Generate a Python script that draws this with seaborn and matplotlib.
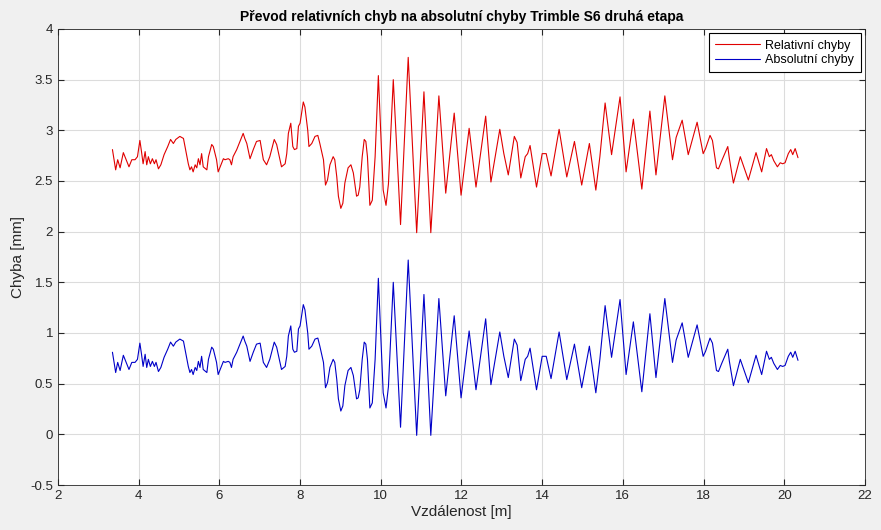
import numpy as np
import pandas as pd
import matplotlib
matplotlib.use("Agg")
import matplotlib.pyplot as plt
import seaborn as sns

# distance [m]
vzdalenost = [
    3.35, 3.43, 3.48, 3.54, 3.62, 3.68, 3.76, 3.83, 3.91, 3.97,
    4.03, 4.07, 4.11, 4.16, 4.20, 4.24, 4.29, 4.34, 4.39, 4.43,
    4.49, 4.55, 4.63, 4.72, 4.79, 4.86, 4.92, 5.02, 5.11, 5.23,
    5.27, 5.31, 5.35, 5.40, 5.44, 5.48, 5.52, 5.56, 5.60, 5.69,
    5.73, 5.81, 5.85, 5.93, 5.97, 6.01, 6.10, 6.14, 6.22, 6.26,
    6.30, 6.34, 6.43, 6.51, 6.59, 6.63, 6.68, 6.76, 6.84, 6.92,
    7.01, 7.09, 7.17, 7.25, 7.36, 7.42, 7.50, 7.54, 7.63, 7.67,
    7.71, 7.77, 7.82, 7.86, 7.92, 7.96, 8.00, 8.08, 8.12, 8.19,
    8.22, 8.29, 8.37, 8.44, 8.49, 8.58, 8.63, 8.68, 8.74, 8.82,
    8.86, 8.91, 8.95, 9.01, 9.06, 9.11, 9.19, 9.26, 9.32, 9.40,
    9.44, 9.48, 9.54, 9.59, 9.63, 9.67, 9.73, 9.79, 9.86, 9.94,
    10.06, 10.13, 10.19, 10.31, 10.49, 10.68, 10.89, 11.07, 11.24, 11.44,
    11.61, 11.82, 11.99, 12.19, 12.36, 12.60, 12.73, 12.95, 13.05, 13.16,
    13.24, 13.31, 13.38, 13.47, 13.58, 13.64, 13.70, 13.86, 14.00, 14.10,
    14.22, 14.42, 14.61, 14.80, 14.98, 15.17, 15.33, 15.43, 15.56, 15.72,
    15.93, 16.08, 16.26, 16.47, 16.67, 16.82, 17.04, 17.23, 17.32, 17.47,
    17.62, 17.84, 17.99, 18.05, 18.16, 18.22, 18.32, 18.37, 18.45, 18.60,
    18.64, 18.74, 18.91, 19.11, 19.30, 19.44, 19.56, 19.63, 19.68, 19.74,
    19.83, 19.90, 19.96, 20.02, 20.10, 20.16, 20.21, 20.27, 20.34,
]

# relative errors [mm]
relativni = [
    2.81, 2.61, 2.71, 2.63, 2.78, 2.72, 2.64, 2.71, 2.71, 2.74,
    2.90, 2.79, 2.67, 2.79, 2.66, 2.74, 2.67, 2.72, 2.67, 2.71,
    2.62, 2.66, 2.76, 2.84, 2.91, 2.87, 2.91, 2.94, 2.92, 2.67,
    2.61, 2.64, 2.59, 2.66, 2.63, 2.72, 2.66, 2.77, 2.64, 2.61,
    2.74, 2.86, 2.84, 2.71, 2.59, 2.63, 2.72, 2.71, 2.72, 2.71,
    2.66, 2.74, 2.81, 2.89, 2.97, 2.92, 2.87, 2.72, 2.81, 2.89,
    2.90, 2.71, 2.66, 2.74, 2.91, 2.86, 2.71, 2.64, 2.67, 2.77,
    2.97, 3.07, 2.84, 2.81, 2.82, 3.04, 3.07, 3.28, 3.23, 3.00,
    2.84, 2.87, 2.94, 2.95, 2.87, 2.71, 2.46, 2.51, 2.66, 2.74,
    2.71, 2.54, 2.35, 2.23, 2.28, 2.48, 2.63, 2.66, 2.58, 2.35,
    2.36, 2.44, 2.74, 2.91, 2.89, 2.74, 2.26, 2.31, 2.74, 3.54,
    2.41, 2.26, 2.47, 3.50, 2.07, 3.72, 1.99, 3.38, 1.99, 3.34,
    2.38, 3.17, 2.36, 3.02, 2.44, 3.14, 2.49, 3.01, 2.77, 2.56,
    2.76, 2.94, 2.88, 2.53, 2.74, 2.77, 2.85, 2.44, 2.77, 2.77,
    2.55, 3.01, 2.54, 2.89, 2.46, 2.87, 2.41, 2.74, 3.27, 2.76,
    3.33, 2.59, 3.11, 2.42, 3.19, 2.56, 3.34, 2.71, 2.93, 3.10,
    2.76, 3.08, 2.77, 2.82, 2.95, 2.90, 2.63, 2.62, 2.70, 2.84,
    2.72, 2.48, 2.74, 2.51, 2.78, 2.59, 2.82, 2.74, 2.76, 2.70,
    2.64, 2.68, 2.67, 2.68, 2.77, 2.81, 2.76, 2.82, 2.73,
]

# absolute errors [mm]
absolutni = [
    0.81, 0.61, 0.71, 0.63, 0.78, 0.72, 0.64, 0.71, 0.71, 0.74,
    0.90, 0.79, 0.67, 0.79, 0.66, 0.74, 0.67, 0.72, 0.67, 0.71,
    0.62, 0.66, 0.76, 0.84, 0.91, 0.87, 0.91, 0.94, 0.92, 0.67,
    0.61, 0.64, 0.59, 0.66, 0.63, 0.72, 0.66, 0.77, 0.64, 0.61,
    0.74, 0.86, 0.84, 0.71, 0.59, 0.63, 0.72, 0.71, 0.72, 0.71,
    0.66, 0.74, 0.81, 0.89, 0.97, 0.92, 0.87, 0.72, 0.81, 0.89,
    0.90, 0.71, 0.66, 0.74, 0.91, 0.86, 0.71, 0.64, 0.67, 0.77,
    0.97, 1.07, 0.84, 0.81, 0.82, 1.04, 1.07, 1.28, 1.23, 1.00,
    0.84, 0.87, 0.94, 0.95, 0.87, 0.71, 0.46, 0.51, 0.66, 0.74,
    0.71, 0.54, 0.35, 0.23, 0.28, 0.48, 0.63, 0.66, 0.58, 0.35,
    0.36, 0.44, 0.74, 0.91, 0.89, 0.74, 0.26, 0.31, 0.74, 1.54,
    0.41, 0.26, 0.47, 1.50, 0.07, 1.72, -0.01, 1.38, -0.01, 1.34,
    0.38, 1.17, 0.36, 1.02, 0.44, 1.14, 0.49, 1.01, 0.77, 0.56,
    0.76, 0.94, 0.88, 0.53, 0.74, 0.77, 0.85, 0.44, 0.77, 0.77,
    0.55, 1.01, 0.54, 0.89, 0.46, 0.87, 0.41, 0.74, 1.27, 0.76,
    1.33, 0.59, 1.11, 0.42, 1.19, 0.56, 1.34, 0.71, 0.93, 1.10,
    0.76, 1.08, 0.77, 0.82, 0.95, 0.90, 0.63, 0.62, 0.70, 0.84,
    0.72, 0.48, 0.74, 0.51, 0.78, 0.59, 0.82, 0.74, 0.76, 0.70,
    0.64, 0.68, 0.67, 0.68, 0.77, 0.81, 0.76, 0.82, 0.73,
]

x_ticks = list(range(2, 23, 2))
y_ticks = [-0.5, 0, 0.5, 1, 1.5, 2, 2.5, 3, 3.5, 4]

df = pd.DataFrame({
    "Vzdálenost": vzdalenost * 2,
    "Chyba": relativni + absolutni,
    "serie": ["Relativní chyby"] * len(vzdalenost) + ["Absolutní chyby"] * len(vzdalenost),
})

sns.set_style("whitegrid")
plt.rcParams["font.family"] = ["Liberation Sans", "DejaVu Sans"]
plt.rcParams["text.color"] = "black"
plt.rcParams["axes.labelcolor"] = "#262626"

fig = plt.figure(figsize=(8.81, 5.30), dpi=100, facecolor="#f0f0f0")
ax = fig.add_axes([0.0658, 0.0849, 0.916, 0.8604])

sns.lineplot(data=df, x="Vzdálenost", y="Chyba", hue="serie",
             palette={"Relativní chyby": "#e00000", "Absolutní chyby": "#0000c8"},
             estimator=None, sort=False, linewidth=0.8, ax=ax)

ax.set_xlim(2, 22)
ax.set_ylim(-0.5, 4)
ax.set_xticks(x_ticks)
ax.set_yticks(y_ticks)
ax.set_yticklabels([f"{v:g}" for v in y_ticks])
ax.grid(True, color="#dcdcdc", linewidth=0.8)
for s in ax.spines.values():
    s.set_visible(True)
    s.set_color("#262626")
    s.set_linewidth(0.6)
ax.tick_params(direction="in", length=4, labelsize=9.5, color="#262626",
               labelcolor="#262626", top=True, right=True, bottom=True, left=True)

ax.set_title("Převod relativních chyb na absolutní chyby Trimble S6 druhá etapa",
             fontsize=10, fontweight="bold", pad=6, color="black")
ax.set_xlabel("Vzdálenost [m]", fontsize=11, labelpad=2)
ax.set_ylabel("Chyba [mm]", fontsize=11, labelpad=4)

leg = ax.legend(loc="upper right", fontsize=9, frameon=True, fancybox=False,
                edgecolor="black", framealpha=1, borderaxespad=0.35,
                handlelength=3.6, handletextpad=0.4, borderpad=0.5, labelspacing=0.2)
leg.get_frame().set_linewidth(0.8)

fig.savefig("out.png", dpi=100, facecolor=fig.get_facecolor())
